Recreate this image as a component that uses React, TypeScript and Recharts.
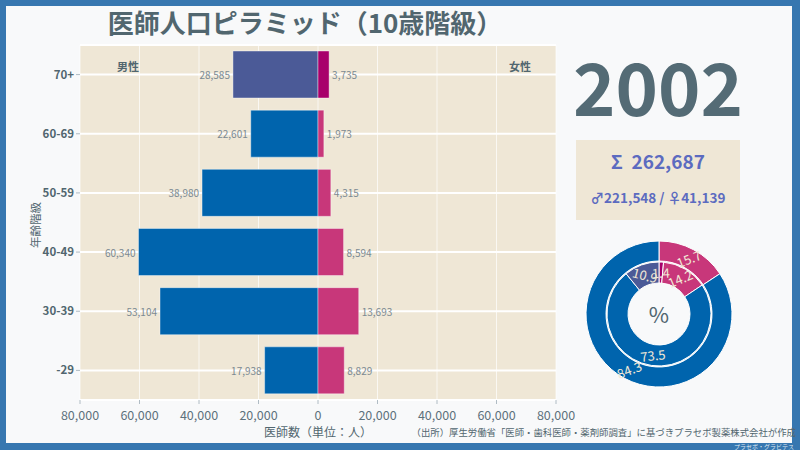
import { BarChart, Bar, XAxis, YAxis, CartesianGrid, Cell, LabelList, PieChart, Pie } from "recharts";

const ageGroups = ["70+", "60-69", "50-59", "40-49", "30-39", "-29"];
const maleCounts = [28585, 22601, 38980, 60340, 53104, 17938];
const femaleCounts = [3735, 1973, 4315, 8594, 13693, 8829];
const xTicks = [-80000, -60000, -40000, -20000, 0, 20000, 40000, 60000, 80000];

// inner ring, clockwise from top: 70+ female, <70 female, <70 male, 70+ male
const innerShares = [1.4, 14.2, 73.5, 10.9];
// outer ring: female, male
const outerShares = [15.7, 84.3];

const year = "2002";
const totalAll = "262,687";
const totalMale = "221,548";
const totalFemale = "41,139";

const BLUE = "#0064ad";
const PINK = "#c8377a";
const PURPLE = "#4b5a97";
const MAGENTA = "#a8006b";
const SLATE = "#51666f";
const BEIGE = "#efe7d6";
const FONT = '"Noto Sans CJK JP", "Noto Sans", sans-serif';

const rows = ageGroups.map((age, i) => ({ age, male: -maleCounts[i], female: femaleCounts[i] }));
const innerData = innerShares.map((v) => ({ v }));
const outerData = outerShares.map((v) => ({ v }));
const innerColors = [MAGENTA, PINK, BLUE, PURPLE];
const outerColors = [PINK, BLUE];

const fmt = (n: number) => Math.abs(n).toLocaleString("en-US");

const barLabel = (side: "left" | "right") => (p: any) => {
  const box = p.viewBox ?? p;
  const x0 = Math.min(box.x, box.x + box.width);
  const x1 = Math.max(box.x, box.x + box.width);
  const y = box.y + box.height / 2;
  const raw = Array.isArray(p.value) ? p.value[1] - p.value[0] : p.value;
  return (
    <text
      x={side === "left" ? x0 - 3 : x1 + 3}
      y={y}
      textAnchor={side === "left" ? "end" : "start"}
      dominantBaseline="central"
      fontSize={10}
      fill="#7b8a93"
      fontFamily={FONT}
    >
      {fmt(raw)}
    </text>
  );
};

const RAD = Math.PI / 180;
const PIE_C = 75;
const pieLabel = (rMid: number) => (p: any) => {
  const x = PIE_C + rMid * Math.cos(-p.midAngle * RAD);
  const y = PIE_C + rMid * Math.sin(-p.midAngle * RAD);
  const theta = (((90 - p.midAngle) % 360) + 360) % 360;
  let rot = -(theta % 180);
  if (rot < -90) rot += 180;
  rot *= 0.75;
  return (
    <text
      key={`l-${p.index}`}
      x={x}
      y={y}
      fill="#f1e8d6"
      fontSize={13}
      fontFamily={FONT}
      textAnchor="middle"
      dominantBaseline="central"
      transform={`rotate(${rot} ${x} ${y})`}
    >
      {p.value}
    </text>
  );
};

export default function App() {
  return (
    <div style={{ position: "absolute", left: 0, top: 0, width: 800, height: 450, background: "#3777b0", fontFamily: FONT, overflow: "hidden" }}>
      <div style={{ position: "absolute", left: 6, top: 6, width: 786, height: 437, background: "#f8f9fa" }} />

      <div style={{ position: "absolute", left: 0, top: 4, width: 610, textAlign: "center", fontSize: 26, fontWeight: 700, color: SLATE, lineHeight: "36px" }}>
        医師人口ピラミッド（10歳階級）
      </div>

      <div style={{ position: "absolute", left: 0, top: 0 }}>
        <BarChart
          width={590}
          height={450}
          data={rows}
          layout="vertical"
          stackOffset="sign"
          barSize={47}
          margin={{ top: 45, right: 34, bottom: 30, left: 0 }}
        >
          <CartesianGrid horizontal={false} stroke="#ffffff" strokeOpacity={0.7} fill={BEIGE} verticalValues={xTicks} />
          <CartesianGrid vertical={false} stroke="#ffffff" strokeWidth={2} />
          <XAxis
            type="number"
            domain={[-80000, 80000]}
            ticks={xTicks}
            tickFormatter={fmt}
            axisLine={false}
            tickSize={4}
            tickMargin={7}
            tickLine={{ stroke: "#b0bcc4" }}
            tick={{ fontSize: 12.5, fill: "#5d717c", fontFamily: FONT }}
            height={20}
          />
          <YAxis
            type="category"
            dataKey="age"
            width={80}
            axisLine={false}
            tickSize={4}
            tickLine={{ stroke: "#b0bcc4" }}
            tick={{ fontSize: 11.5, fill: SLATE, fontWeight: 600, fontFamily: FONT }}
          />
          <Bar dataKey="male" stackId="a" isAnimationActive={false} stroke="#ffffff" strokeOpacity={0.4} strokeWidth={1}>
            {rows.map((_, i) => (
              <Cell key={i} fill={i === 0 ? PURPLE : BLUE} />
            ))}
            <LabelList dataKey="male" content={barLabel("left")} />
          </Bar>
          <Bar dataKey="female" stackId="a" isAnimationActive={false} stroke="#ffffff" strokeOpacity={0.4} strokeWidth={1}>
            {rows.map((_, i) => (
              <Cell key={i} fill={i === 0 ? MAGENTA : PINK} />
            ))}
            <LabelList dataKey="female" content={barLabel("right")} />
          </Bar>
        </BarChart>
      </div>

      <div style={{ position: "absolute", left: 117, top: 58, fontSize: 11, fontWeight: 700, color: SLATE }}>男性</div>
      <div style={{ position: "absolute", left: 509, top: 58, fontSize: 11, fontWeight: 700, color: SLATE }}>女性</div>

      <div style={{ position: "absolute", left: 13, top: 216, width: 44, height: 20, textAlign: "center", transform: "rotate(-90deg)", fontSize: 11.5, color: SLATE, lineHeight: "20px", whiteSpace: "nowrap" }}>
        年齢階級
      </div>
      <div style={{ position: "absolute", left: 218, top: 423, width: 200, textAlign: "center", fontSize: 12, color: SLATE, lineHeight: "18px" }}>
        医師数（単位：人）
      </div>
      <div style={{ position: "absolute", left: 404, top: 425, width: 392, textAlign: "right", fontSize: 9.4, color: SLATE, lineHeight: "14px", whiteSpace: "nowrap" }}>
        （出所）厚生労働省「医師・歯科医師・薬剤師調査」に基づきプラセボ製薬株式会社が作成
      </div>
      <div style={{ position: "absolute", right: 6, top: 443, fontSize: 6, color: "#dfe8f2", lineHeight: "7px" }}>プラセボ・グラビテス</div>

      <div style={{ position: "absolute", left: 560, top: 37, width: 196, textAlign: "center", fontSize: 72, fontWeight: 700, color: "#546b75", lineHeight: "96px" }}>
        {year}
      </div>

      <div style={{ position: "absolute", left: 576, top: 140, width: 164, height: 80, background: BEIGE }}>
        <div style={{ position: "absolute", left: 0, top: 7, width: 164, textAlign: "center", fontSize: 19, fontWeight: 700, color: "#5c6bc0", lineHeight: "28px" }}>
          Σ&nbsp;&nbsp;{totalAll}
        </div>
        <div style={{ position: "absolute", left: 0, top: 47, width: 164, textAlign: "center", fontSize: 13.5, fontWeight: 700, color: "#5c6bc0", lineHeight: "20px", whiteSpace: "nowrap" }}>
          ♂{totalMale} / ♀{totalFemale}
        </div>
      </div>

      <div style={{ position: "absolute", left: 584, top: 239 }}>
        <PieChart width={150} height={150} margin={{ top: 0, right: 0, bottom: 0, left: 0 }}>
          <Pie
            data={outerData}
            dataKey="v"
            cx={PIE_C}
            cy={PIE_C}
            innerRadius={53}
            outerRadius={73}
            startAngle={90}
            endAngle={-270}
            stroke="#ffffff"
            strokeWidth={1}
            label={pieLabel(63)}
            labelLine={false}
            isAnimationActive={false}
          >
            {outerData.map((_, i) => (
              <Cell key={i} fill={outerColors[i]} />
            ))}
          </Pie>
          <Pie
            data={innerData}
            dataKey="v"
            cx={PIE_C}
            cy={PIE_C}
            innerRadius={31}
            outerRadius={52}
            startAngle={90}
            endAngle={-270}
            stroke="#ffffff"
            strokeWidth={1}
            label={pieLabel(41.5)}
            labelLine={false}
            isAnimationActive={false}
          >
            {innerData.map((_, i) => (
              <Cell key={i} fill={innerColors[i]} />
            ))}
          </Pie>
        </PieChart>
      </div>
      <div style={{ position: "absolute", left: 629, top: 297, width: 60, textAlign: "center", fontSize: 22, color: SLATE, lineHeight: "32px" }}>%</div>
    </div>
  );
}
